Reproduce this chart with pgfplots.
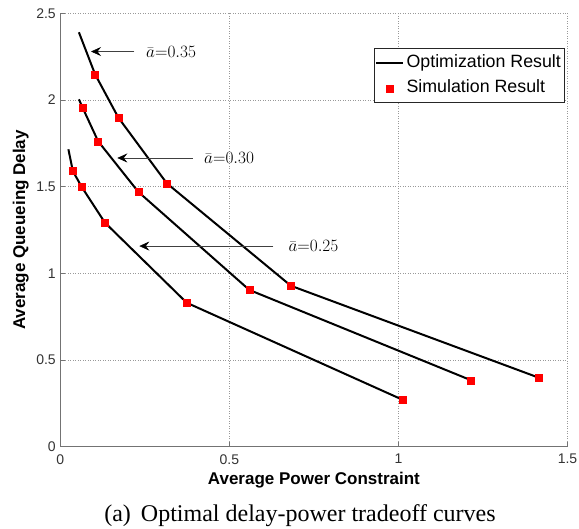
\documentclass[border=0pt]{standalone}
\usepackage[no-math]{fontspec}
\setmainfont{Liberation Sans}
\newfontfamily\capfont{Liberation Serif}
\usepackage{pgfplots}
\pgfplotsset{compat=1.18}
\usetikzlibrary{arrows.meta}
\pgfplotsset{
  linelegend/.style={legend image code/.code={\draw[##1] (0pt,0pt) -- (27pt,0pt);}},
  marklegend/.style={legend image code/.code={\draw[##1] plot coordinates {(13.5pt,0pt)};}},
  simmark/.style={only marks, mark=square*, mark size=3.5pt, color=red, mark options={fill=red, draw=red, line width=0.5pt}},
  optline/.style={black, line width=2pt},
}
\begin{document}
\begin{tikzpicture}
\useasboundingbox (-60.3pt,-82.3pt) rectangle (518.7pt,446.7pt);
\begin{axis}[
  at={(0pt,0pt)}, anchor=south west,
  scale only axis, width=507.2pt, height=433.5pt,
  xmin=0, xmax=1.5, ymin=0, ymax=2.5,
  xtick={0,0.5,1,1.5}, ytick={0,0.5,1,1.5,2,2.5},
  axis x line*=bottom, axis y line*=left,
  axis line style={black!55, line width=0.6pt, -},
  tick align=inside, major tick length=5pt,
  tick style={black!55, line width=0.6pt},
  /pgf/number format/assume math mode=true,
  ticklabel style={font=\fontsize{14}{16}\selectfont, text=black!80},
  xticklabel style={yshift=-4pt},
  yticklabel style={xshift=-1pt},
  grid=major,
  major grid style={black!40, line width=0.5pt, dash pattern=on 1pt off 1.5pt},
  xlabel={\bfseries Average Power Constraint},
  ylabel={\bfseries Average Queueing Delay},
  label style={font=\fontsize{17}{20}\selectfont\bfseries},
  xlabel style={at={(axis description cs:0.5,-0.0768)}, anchor=center},
  ylabel style={at={(axis description cs:-0.078,0.5)}, anchor=center},
  legend style={at={(axis description cs:0.9945,0.9197)}, anchor=north east,
    draw=black!85, line width=0.6pt, fill=white,
    font=\fontsize{17.8}{20}\selectfont,
    inner xsep=1pt, inner ysep=1.5pt, row sep=0pt,
    nodes={inner xsep=2.5pt, inner ysep=4.35pt, text height=13pt, text depth=4pt}},
  legend cell align=left,
]
% Optimization result curves
\addplot[optline, linelegend]
  coordinates {(0.055,2.390) (0.103,2.147) (0.172,1.897) (0.315,1.519) (0.682,0.928) (1.415,0.398)};
\addlegendentry{Optimization Result}
\addplot[optline, forget plot]
  coordinates {(0.055,2.003) (0.066,1.955) (0.112,1.761) (0.231,1.469) (0.559,0.904) (1.215,0.383)};
\addplot[optline, forget plot]
  coordinates {(0.024,1.715) (0.037,1.590) (0.063,1.499) (0.132,1.292) (0.374,0.830) (1.013,0.270)};
% Simulation result points
\addplot[simmark, marklegend]
  coordinates {(0.103,2.147) (0.172,1.897) (0.315,1.519) (0.682,0.928) (1.415,0.398)};
\addlegendentry{Simulation Result}
\addplot[simmark, forget plot]
  coordinates {(0.066,1.955) (0.112,1.761) (0.231,1.469) (0.559,0.904) (1.215,0.383)};
\addplot[simmark, forget plot]
  coordinates {(0.037,1.590) (0.063,1.499) (0.132,1.292) (0.374,0.830) (1.013,0.270)};
% annotations
\draw[black!75, line width=0.6pt, -{Stealth[length=10pt, width=9pt, inset=3.5pt, black]}]
  (axis cs:0.219,2.279) -- (axis cs:0.0908,2.279);
\node[anchor=west, inner sep=0pt, font=\fontsize{17.5}{20}\selectfont] at (axis cs:0.2535,2.279) {$\bar{a}{=}0.35$};
\draw[black!75, line width=0.6pt, -{Stealth[length=10pt, width=9pt, inset=3.5pt, black]}]
  (axis cs:0.3916,1.665) -- (axis cs:0.1686,1.665);
\node[anchor=west, inner sep=0pt, font=\fontsize{17.5}{20}\selectfont] at (axis cs:0.425,1.665) {$\bar{a}{=}0.30$};
\draw[black!75, line width=0.6pt, -{Stealth[length=10pt, width=9pt, inset=3.5pt, black]}]
  (axis cs:0.630,1.157) -- (axis cs:0.2337,1.157);
\node[anchor=west, inner sep=0pt, font=\fontsize{17.5}{20}\selectfont] at (axis cs:0.6744,1.157) {$\bar{a}{=}0.25$};
\end{axis}
\node[anchor=base, inner sep=0pt, font=\capfont\fontsize{24}{28}\selectfont] at (239.7pt,-75.3pt) {(a)\hspace{10pt}Optimal delay-power tradeoff curves};
\end{tikzpicture}
\end{document}
